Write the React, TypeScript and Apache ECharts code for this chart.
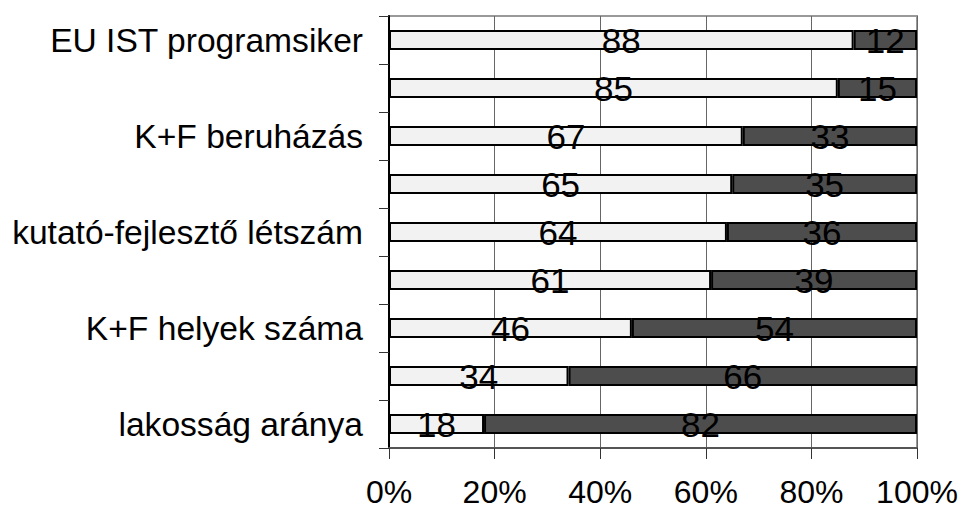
import React, { useEffect, useRef } from "react";
import * as echarts from "echarts";

const categories = [
  "EU IST programsiker",
  "",
  "K+F beruházás",
  "",
  "kutató-fejlesztő létszám",
  "",
  "K+F helyek száma",
  "",
  "lakosság aránya",
];
const lightValues = [88, 85, 67, 65, 64, 61, 46, 34, 18];
const darkValues = [12, 15, 33, 35, 36, 39, 54, 66, 82];
const xMin = 0;
const xMax = 100;
const xInterval = 20;

const FONT = "'Liberation Sans', Arial, Helvetica, sans-serif";

export default function App() {
  const ref = useRef<HTMLDivElement>(null);
  useEffect(() => {
    if (!ref.current) return;
    const chart = echarts.init(ref.current, undefined, { renderer: "svg" });
    const labelCfg = {
      show: true,
      position: "inside",
      fontSize: 35,
      color: "#000",
      fontFamily: FONT,
      formatter: "{c}",
    };
    chart.setOption({
      animation: false,
      backgroundColor: "#fff",
      grid: {
        left: 389,
        right: 48,
        top: 16,
        bottom: 63,
        show: true,
        borderColor: "#999",
        borderWidth: 2,
        backgroundColor: "transparent",
      },
      xAxis: {
        type: "value",
        min: xMin,
        max: xMax,
        interval: xInterval,
        axisLine: { show: true, lineStyle: { color: "#555", width: 2 } },
        axisTick: { show: true, length: 11, lineStyle: { color: "#333", width: 1 } },
        axisLabel: {
          fontSize: 32,
          lineHeight: 26,
          color: "#000",
          fontFamily: FONT,
          margin: 31,
          formatter: "{value}%",
        },
        splitLine: { show: true, lineStyle: { color: "#666", width: 1 } },
      },
      yAxis: {
        type: "category",
        inverse: true,
        data: categories,
        axisLine: { show: true, lineStyle: { color: "#000", width: 2 } },
        axisTick: {
          show: true,
          interval: 0,
          length: 10,
          alignWithLabel: false,
          lineStyle: { color: "#333", width: 1 },
        },
        axisLabel: {
          interval: 0,
          fontSize: 33.6,
          color: "#000",
          fontFamily: FONT,
          margin: 26,
        },
        splitLine: { show: false },
      },
      series: [
        {
          type: "bar",
          stack: "total",
          data: lightValues,
          barWidth: 20,
          itemStyle: { color: "#f2f2f2", borderColor: "#000", borderWidth: 2 },
          label: labelCfg,
        },
        {
          type: "bar",
          stack: "total",
          data: darkValues,
          barWidth: 20,
          itemStyle: { color: "#4d4d4d", borderColor: "#000", borderWidth: 2 },
          label: labelCfg,
        },
      ],
    });
    return () => chart.dispose();
  }, []);
  return (
    <div
      ref={ref}
      style={{ position: "fixed", left: 0, top: 0, width: 965, height: 511 }}
    />
  );
}
